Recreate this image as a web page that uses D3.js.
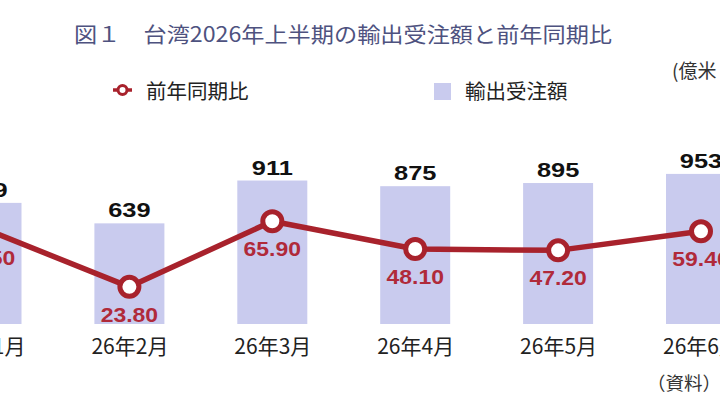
<!DOCTYPE html>
<html><head><meta charset="utf-8">
<script src="https://cdn.jsdelivr.net/npm/d3@7"></script>
<style>body{margin:0;background:#fff}svg{display:block}</style>
</head><body><svg id="c" width="720" height="405"></svg>
<script>
const months = ["26年1月","26年2月","26年3月","26年4月","26年5月","26年6月"];
const orders = [769, 639, 911, 875, 895, 953];
const yoy = [60.5, 23.8, 65.9, 48.1, 47.2, 59.4];
const titleText = "図１　台湾2026年上半期の輸出受注額と前年同期比";
const legendLabels = ["前年同期比", "輸出受注額"];
const unitLabel = "(億米ドル)";
const sourceLabel = "（資料）台湾経済部";

const barColor = "#c9cbee", lineColor = "#a8222c", yoyColor = "#b02a3a";
const cjk = "'Noto Sans CJK JP','Noto Sans CJK SC',sans-serif";
const num = "'Liberation Sans',Arial,Helvetica,sans-serif";

const svg = d3.select("#c");
const base = 324;
const x = d3.scalePoint().domain(months).range([-13.5, 701]);
const yBar = d3.scaleLinear().domain([0, 1000]).range([base, 166.5]);
const yLine = d3.scaleLinear().domain([0, 100]).range([base, 168]);
const data = months.map((m, i) => ({m, v: orders[i], r: yoy[i]}));

// title
svg.append("text").attr("x", 74).attr("y", 41.5)
  .attr("textLength", 538).attr("lengthAdjust", "spacingAndGlyphs")
  .style("font-family", cjk).style("font-size", "21px").style("fill", "#4e527f")
  .text(titleText);

// unit
svg.append("text").attr("x", 672).attr("y", 78)
  .style("font-family", cjk).style("font-size", "19px").style("fill", "#333")
  .text(unitLabel);

// legend
const lg = svg.append("g");
lg.append("line").attr("x1", 113).attr("x2", 132).attr("y1", 90).attr("y2", 90)
  .attr("stroke", lineColor).attr("stroke-width", 3.5);
lg.append("circle").attr("cx", 122.5).attr("cy", 90).attr("r", 4.5)
  .attr("fill", "#fff").attr("stroke", lineColor).attr("stroke-width", 3);
lg.append("text").attr("x", 146).attr("y", 98.5).text(legendLabels[0]);
lg.append("rect").attr("x", 434).attr("y", 83).attr("width", 17).attr("height", 17).attr("fill", barColor);
lg.append("text").attr("x", 465).attr("y", 98.5).text(legendLabels[1]);
lg.selectAll("text").style("font-family", cjk).style("font-size", "20.5px").style("fill", "#222");

// bars
svg.append("g").selectAll("rect").data(data).join("rect")
  .attr("x", d => x(d.m) - 35).attr("width", 70)
  .attr("y", d => yBar(d.v)).attr("height", d => base - yBar(d.v))
  .attr("fill", barColor);

// bar labels
svg.append("g").selectAll("text").data(data).join("text")
  .attr("transform", d => `translate(${x(d.m)},${yBar(d.v) - 6}) scale(1.27,1)`)
  .attr("text-anchor", "middle")
  .style("font-family", num).style("font-weight", "bold").style("font-size", "20px").style("fill", "#111")
  .text(d => d.v);

// line
svg.append("path").datum(data)
  .attr("d", d3.line().x(d => x(d.m)).y(d => yLine(d.r)))
  .attr("fill", "none").attr("stroke", lineColor).attr("stroke-width", 5.5).attr("stroke-linejoin", "round");

svg.append("g").selectAll("circle").data(data).join("circle")
  .attr("cx", d => x(d.m)).attr("cy", d => yLine(d.r)).attr("r", 9.5)
  .attr("fill", "#fff").attr("stroke", lineColor).attr("stroke-width", 5);

// yoy labels
svg.append("g").selectAll("text").data(data).join("text")
  .attr("transform", d => `translate(${x(d.m)},${yLine(d.r) + 35}) scale(1.12,1)`)
  .attr("text-anchor", "middle")
  .style("font-family", num).style("font-weight", "bold").style("font-size", "20.5px").style("fill", yoyColor)
  .text(d => d3.format(".2f")(d.r));

// x axis
const ax = svg.append("g").attr("transform", `translate(0,${base})`)
  .call(d3.axisBottom(x).tickSize(0));
ax.select(".domain").remove();
ax.selectAll("text").attr("y", 29.5).attr("dy", 0)
  .style("font-family", cjk).style("font-size", "21px").style("fill", "#222");

// source
svg.append("text").attr("x", 647).attr("y", 389.5)
  .style("font-family", cjk).style("font-size", "18.5px").style("fill", "#333")
  .text(sourceLabel);
</script></body></html>
